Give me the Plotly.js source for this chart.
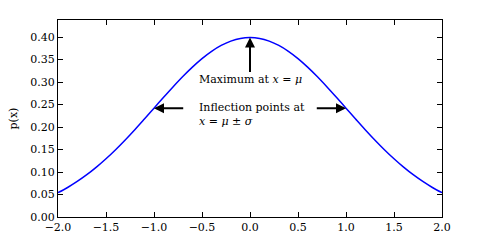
<!DOCTYPE html>
<html><head><meta charset="utf-8">
<script src="https://cdn.plot.ly/plotly-3.0.1.min.js"></script>
<style>html,body{margin:0;padding:0;background:#fff}</style>
</head><body><div id="chart" style="width:481px;height:246px"></div>
<script>
// values
const xs = [-2.0,-1.9,-1.8,-1.7,-1.6,-1.5,-1.4,-1.3,-1.2,-1.1,-1.0,-0.9,-0.8,-0.7,-0.6,-0.5,-0.4,-0.3,-0.2,-0.1,0.0,
            0.1,0.2,0.3,0.4,0.5,0.6,0.7,0.8,0.9,1.0,1.1,1.2,1.3,1.4,1.5,1.6,1.7,1.8,1.9,2.0];
const ys = [0.0540,0.0656,0.0790,0.0940,0.1109,0.1295,0.1497,0.1714,0.1942,0.2179,0.2420,0.2661,0.2897,0.3123,0.3332,0.3521,0.3683,0.3814,0.3910,0.3970,0.3989,
            0.3970,0.3910,0.3814,0.3683,0.3521,0.3332,0.3123,0.2897,0.2661,0.2420,0.2179,0.1942,0.1714,0.1497,0.1295,0.1109,0.0940,0.0790,0.0656,0.0540];
const xTicks = [-2.0,-1.5,-1.0,-0.5,0.0,0.5,1.0,1.5,2.0];
const xTickLabels = ['\u22122.0','\u22121.5','\u22121.0','\u22120.5','0.0','0.5','1.0','1.5','2.0'];
const yTicks = [0,0.05,0.10,0.15,0.20,0.25,0.30,0.35,0.40];
const yTickLabels = ['0.00','0.05','0.10','0.15','0.20','0.25','0.30','0.35','0.40'];
// annotation anchor points
const peak = {x:0, y:0.3989, tailY:0.319};
const infl = [{x:-1, y:0.2420, tailX:-0.68},{x:1, y:0.2420, tailX:0.68}];

const fam = 'DejaVu Serif';
const mk = (s) => ({family:fam, size:s||11, color:'#000'});

const ann = [
  {x:peak.x, y:peak.y, ax:peak.x, ay:peak.tailY, xref:'x', yref:'y', axref:'x', ayref:'y',
   text:'', showarrow:true, arrowhead:2, arrowsize:1, arrowwidth:2, arrowcolor:'#000', standoff:0},
  ...infl.map(p=>({x:p.x, y:p.y, ax:p.tailX, ay:p.y, xref:'x', yref:'y', axref:'x', ayref:'y',
   text:'', showarrow:true, arrowhead:2, arrowsize:1, arrowwidth:2, arrowcolor:'#000', standoff:0})),
  {x:-0.55, y:0.306, xref:'x', yref:'y', xanchor:'left', yanchor:'middle', showarrow:false,
   text:'Maximum at <i>x</i> = <i>μ</i>', font:mk()},
  {x:-0.55, y:0.229, xref:'x', yref:'y', xanchor:'left', yanchor:'middle', showarrow:false, align:'left',
   text:'Inflection points at<br><i>x</i> = <i>μ</i> ± <i>σ</i>', font:mk()}
];

const axisCommon = () => ({showline:true, linecolor:'#000', linewidth:1, mirror:'ticks', ticks:'inside',
  ticklen:5, tickwidth:1, tickcolor:'#000', showgrid:false, zeroline:false, tickfont:mk()});

Plotly.newPlot('chart', [{x:xs, y:ys, type:'scatter', mode:'lines', line:{color:'#0000ff', width:1.5, shape:'spline'}, hoverinfo:'skip'}], {
  width:481, height:246, margin:{l:58, r:39, t:20, b:29},
  paper_bgcolor:'#fff', plot_bgcolor:'#fff', showlegend:false, font:mk(),
  xaxis:Object.assign(axisCommon(), {range:[-2,2], tickvals:xTicks, ticktext:xTickLabels}),
  yaxis:Object.assign(axisCommon(), {range:[0,0.438], tickvals:yTicks, ticktext:yTickLabels,
    title:{text:'p(x)', font:mk(), standoff:10}}),
  annotations:ann
}, {staticPlot:true});
</script></body></html>
